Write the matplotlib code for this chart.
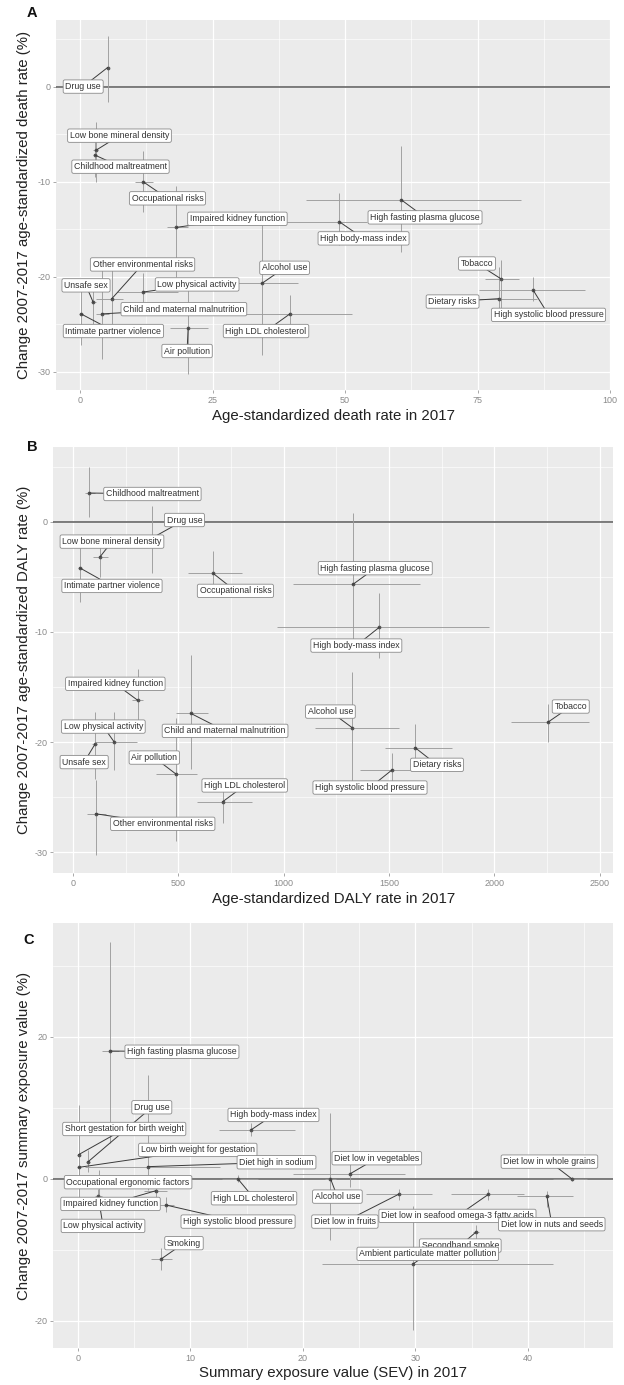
import matplotlib
matplotlib.use('Agg')
import matplotlib.pyplot as plt
from matplotlib.ticker import FixedLocator

plt.rcParams['font.family'] = ['Liberation Sans', 'DejaVu Sans']
plt.rcParams['axes.unicode_minus'] = False

# ---------------- Panel A data ----------------
A_risks = ["Drug use", "Low bone mineral density", "Childhood maltreatment", "Occupational risks",
           "Impaired kidney function", "Other environmental risks", "Unsafe sex", "Low physical activity",
           "Child and maternal malnutrition", "Intimate partner violence", "Air pollution",
           "High LDL cholesterol", "Alcohol use", "High fasting plasma glucose", "High body-mass index",
           "Tobacco", "Dietary risks", "High systolic blood pressure"]
A_rate = [5.2, 3.0, 2.8, 11.9, 18.2, 6.0, 2.5, 11.9, 4.1, 0.2, 20.4, 39.6, 34.3, 60.6, 48.9, 79.4, 79.0, 85.5]
A_rate_lo = [4.9, 2.5, 2.4, 10.4, 16.4, 3.1, 2.0, 6.9, 3.0, -0.2, 17.0, 29.6, 29.0, 42.6, 37.7, 76.4, 75.2, 75.2]
A_rate_hi = [5.5, 3.4, 3.2, 13.8, 20.4, 8.1, 3.0, 18.5, 5.5, 0.6, 24.2, 51.3, 41.2, 83.3, 54.1, 82.9, 86.2, 95.3]
A_change = [2.0, -6.7, -7.2, -10.0, -14.8, -22.3, -22.7, -21.6, -23.9, -23.9, -25.4, -23.9, -20.7, -11.9, -14.2, -20.2, -22.3, -21.4]
A_change_lo = [-1.6, -10.0, -9.5, -13.2, -20.0, -25.0, -25.0, -23.0, -28.6, -27.2, -30.2, -26.0, -28.2, -17.4, -16.7, -24.6, -24.0, -22.5]
A_change_hi = [5.3, -3.7, -5.0, -6.8, -10.5, -19.3, -21.0, -19.6, -19.3, -20.7, -20.9, -21.9, -13.2, -6.2, -11.2, -18.2, -19.0, -20.0]
A_lab_x = [0.6, 7.45, 7.64, 16.5, 29.7, 11.8, 1.13, 22.1, 19.6, 6.3, 20.2, 35.1, 38.6, 65.1, 53.5, 74.9, 70.3, 88.4]
A_lab_y = [0.0, -5.16, -8.42, -11.75, -13.9, -18.7, -20.9, -20.8, -23.4, -25.7, -27.8, -25.7, -19.05, -13.75, -15.96, -18.6, -22.6, -24.0]
A_xticks = [0, 25, 50, 75, 100]
A_yticks = [0, -10, -20, -30]

# ---------------- Panel B data ----------------
B_risks = ["Childhood maltreatment", "Drug use", "Low bone mineral density", "Intimate partner violence",
           "Occupational risks", "High fasting plasma glucose", "High body-mass index",
           "Impaired kidney function", "Child and maternal malnutrition", "Low physical activity",
           "Unsafe sex", "Air pollution", "High LDL cholesterol", "Other environmental risks",
           "Alcohol use", "Dietary risks", "High systolic blood pressure", "Tobacco"]
B_rate = [77, 374, 128, 33, 666, 1328, 1453, 307, 560, 196, 104, 489, 711, 108, 1326, 1624, 1516, 2254]
B_rate_lo = [57, 362, 96, 25, 547, 1046, 967, 279, 488, 104, 92, 393, 587, 65, 1149, 1481, 1363, 2078]
B_rate_hi = [104, 386, 168, 41, 801, 1648, 1977, 334, 642, 302, 116, 587, 849, 157, 1546, 1798, 1624, 2452]
B_change = [2.6, -1.5, -3.2, -4.2, -4.7, -5.7, -9.6, -16.2, -17.4, -20.0, -20.2, -22.9, -25.4, -26.5, -18.7, -20.5, -22.5, -18.2]
B_change_lo = [0.45, -4.7, -5.0, -7.3, -6.8, -11.6, -12.4, -18.4, -22.4, -22.5, -23.3, -29.0, -27.3, -30.2, -23.9, -22.5, -24.0, -20.0]
B_change_hi = [5.0, 1.4, -1.9, -1.9, -2.7, 0.76, -6.5, -13.4, -12.1, -17.3, -17.3, -17.8, -23.6, -23.4, -13.6, -18.4, -21.0, -16.5]
B_lab_x = [377, 529, 185, 185, 771, 1435, 1345, 201, 722, 144, 53, 386, 815, 426, 1222, 1728, 1410, 2363]
B_lab_y = [2.51, 0.15, -1.81, -5.83, -6.28, -4.22, -11.24, -14.71, -18.98, -18.59, -21.81, -21.4, -23.93, -27.41, -17.23, -22.06, -24.12, -16.77]
B_xticks = [0, 500, 1000, 1500, 2000, 2500]
B_yticks = [0, -10, -20, -30]

# ---------------- Panel C data ----------------
C_risks = ["High fasting plasma glucose", "Drug use", "High body-mass index", "Short gestation for birth weight",
           "Low birth weight for gestation", "Diet high in sodium", "Diet low in vegetables",
           "Diet low in whole grains", "Occupational ergonomic factors", "Alcohol use",
           "High LDL cholesterol", "Impaired kidney function", "High systolic blood pressure",
           "Low physical activity", "Diet low in fruits", "Diet low in seafood omega-3 fatty acids",
           "Diet low in nuts and seeds", "Smoking", "Secondhand smoke", "Ambient particulate matter pollution"]
C_sev = [2.83, 0.9, 15.4, 0.06, 0.06, 6.2, 24.2, 43.9, 1.9, 22.45, 14.2, 6.9, 7.8, 1.8, 28.5, 36.5, 41.7, 7.4, 35.4, 29.8]
C_sev_lo = [2.1, 0.7, 12.5, -0.1, -0.1, 0.6, 19.1, 42.2, 1.6, 22.0, 12.8, 5.9, 7.0, 1.5, 25.6, 33.2, 39.0, 6.5, 35.1, 21.7]
C_sev_hi = [3.6, 1.1, 19.3, 0.2, 0.2, 12.6, 29.1, 45.3, 2.2, 22.9, 16.0, 7.9, 8.5, 2.1, 31.5, 39.7, 44.0, 8.4, 35.7, 42.2]
C_change = [18.0, 2.4, 6.9, 3.4, 1.6, 1.7, 0.7, 0.0, -0.6, 0.0, 0.0, -1.7, -3.7, -2.5, -2.2, -2.2, -2.5, -11.3, -7.5, -12.0]
C_change_lo = [5.0, 1.0, 6.0, -3.0, -1.0, -1.6, -1.1, -0.3, -3.0, -8.6, -0.5, -3.0, -4.7, -3.5, -3.0, -3.0, -4.0, -12.8, -8.5, -21.3]
C_change_hi = [33.4, 4.0, 7.8, 10.4, 4.0, 14.6, 2.7, 0.3, 1.2, 9.2, 0.5, -0.5, -2.6, -1.5, -1.5, -1.4, -1.8, -9.8, -6.5, -3.8]
C_lab_x = [9.24, 6.56, 17.38, 4.11, 10.65, 17.65, 26.57, 41.92, 4.45, 23.06, 15.65, 2.89, 14.23, 2.22, 23.73, 33.74, 42.13, 9.42, 33.99, 31.1]
C_lab_y = [17.9, 10.07, 8.99, 7.01, 4.06, 2.32, 2.89, 2.41, -0.49, -2.52, -2.75, -3.55, -6.04, -6.65, -6.04, -5.24, -6.41, -9.08, -9.42, -10.59]
C_xticks = [0, 10, 20, 30, 40]
C_yticks = [20, 0, -20]

W, H = 624, 1385
fig = plt.figure(figsize=(W / 100, H / 100), dpi=100)


def rect(l, t, r, b):
    return [l / W, 1 - b / H, (r - l) / W, (b - t) / H]


def draw_panel(pos, names, x, xlo, xhi, y, ylo, yhi, lx, ly, xlim, ylim, xticks, yticks,
               xlabel, ylabel, letter, letter_xy, ylab_x, xlab_y):
    ax = fig.add_axes(rect(*pos))
    ax.set_facecolor('#EBEBEB')
    for s in ax.spines.values():
        s.set_visible(False)
    ax.set_xlim(*xlim)
    ax.set_ylim(*ylim)
    ax.xaxis.set_major_locator(FixedLocator(xticks))
    ax.yaxis.set_major_locator(FixedLocator(yticks))
    xs = sorted(xticks)
    ys = sorted(yticks)
    dx = xs[1] - xs[0]
    dy = ys[1] - ys[0]
    xmin = [xs[0] - dx / 2] + [v + dx / 2 for v in xs]
    ymin = [ys[0] - dy / 2] + [v + dy / 2 for v in ys]
    ax.xaxis.set_minor_locator(FixedLocator(xmin))
    ax.yaxis.set_minor_locator(FixedLocator(ymin))
    ax.grid(which='major', color='white', lw=0.9)
    ax.grid(which='minor', color='white', lw=0.45)
    ax.set_axisbelow(True)
    ax.tick_params(which='major', length=2.5, width=0.6, color='#9a9a9a', labelsize=6.5,
                   labelcolor='#8a8a8a', pad=1.5)
    ax.tick_params(which='minor', length=0)
    ax.axhline(0, color='#5a5a5a', lw=1.1, zorder=2)
    ax.hlines(y, xlo, xhi, color='#9c9c9c', lw=0.65, zorder=2)
    ax.vlines(x, ylo, yhi, color='#9c9c9c', lw=0.65, zorder=2)
    ax.plot(x, y, 'o', color='#555555', ms=1.7, zorder=3)
    for n, px, py, tx, ty in zip(names, x, y, lx, ly):
        ax.plot([tx, px], [ty, py], color='#3a3a3a', lw=0.7, zorder=4)
        ax.text(tx, ty, n, fontsize=6.3, color='#333333', ha='center', va='center', zorder=5,
                bbox=dict(boxstyle='round,pad=0.25,rounding_size=0.2', fc='white', ec='#8a8a8a', lw=0.6))
    l, t, r, b = pos
    fig.text(((l + r) / 2) / W, 1 - xlab_y / H, xlabel, ha='center', va='center', fontsize=10.8,
             color='#222222')
    fig.text(ylab_x / W, 1 - ((t + b) / 2) / H, ylabel, ha='center', va='center', rotation=90,
             fontsize=10.8, color='#222222')
    fig.text(letter_xy[0] / W, 1 - letter_xy[1] / H, letter, ha='center', va='center', fontsize=10.5,
             fontweight='bold', color='#111111')
    return ax


draw_panel((56, 20, 610, 390), A_risks, A_rate, A_rate_lo, A_rate_hi, A_change, A_change_lo, A_change_hi,
           A_lab_x, A_lab_y, (-4.53, 100.0), (-31.9, 7.0), A_xticks, A_yticks,
           "Age-standardized death rate in 2017", "Change 2007-2017 age-standardized death rate (%)",
           "A", (32, 13), 24, 416)

draw_panel((53.3, 446.7, 613.3, 873.3), B_risks, B_rate, B_rate_lo, B_rate_hi, B_change, B_change_lo,
           B_change_hi, B_lab_x, B_lab_y, (-93.5, 2565), (-31.9, 6.8), B_xticks, B_yticks,
           "Age-standardized DALY rate in 2017", "Change 2007-2017 age-standardized DALY rate (%)",
           "B", (32, 446.7), 24, 899)

draw_panel((53.3, 923.3, 613.3, 1348.3), C_risks, C_sev, C_sev_lo, C_sev_hi, C_change, C_change_lo,
           C_change_hi, C_lab_x, C_lab_y, (-2.2, 47.6), (-23.9, 36.0), C_xticks, C_yticks,
           "Summary exposure value (SEV) in 2017", "Change 2007-2017 summary exposure value (%)",
           "C", (29, 940), 24, 1373)

fig.savefig('out.png', dpi=100)
